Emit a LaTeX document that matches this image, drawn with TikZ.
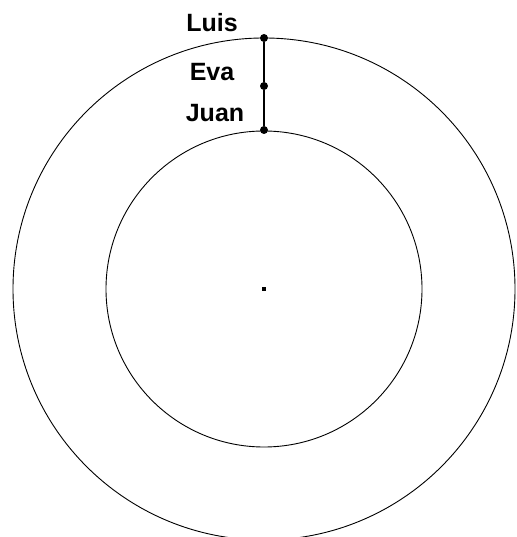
\documentclass[tikz,border=0pt]{standalone}
\usepackage{fontspec}
\setmainfont{Liberation Sans}
\usetikzlibrary{positioning}

\begin{document}
\begin{tikzpicture}[x=1pt, y=1pt,
    pt/.style={circle, fill, inner sep=0pt, minimum size=8pt},
    lbl/.style={font=\bfseries\fontsize{25}{27}\selectfont, inner sep=0pt},
    ring/.style={draw, line width=0.9pt},
]
\useasboundingbox (0,0) rectangle (516,537);
\node[fill, inner sep=0pt, minimum size=4pt] (ctr) at (264,248) {};
\draw[ring] (ctr.center) circle (251);
\draw[ring] (ctr.center) circle (158);

\node[pt] (luis) at (264,499) {};
\node[pt] (eva) at (264,451) {};
\node[pt] (juan) at (264,407) {};
\draw[line width=1.4pt] (luis) -- (eva) -- (juan);

\node[lbl] (luislbl) at (212,514) {Luis};
\node[lbl] (evalbl) at (212,465) {Eva};
\node[lbl] (juanlbl) at (215,424) {Juan};
\end{tikzpicture}
\end{document}
